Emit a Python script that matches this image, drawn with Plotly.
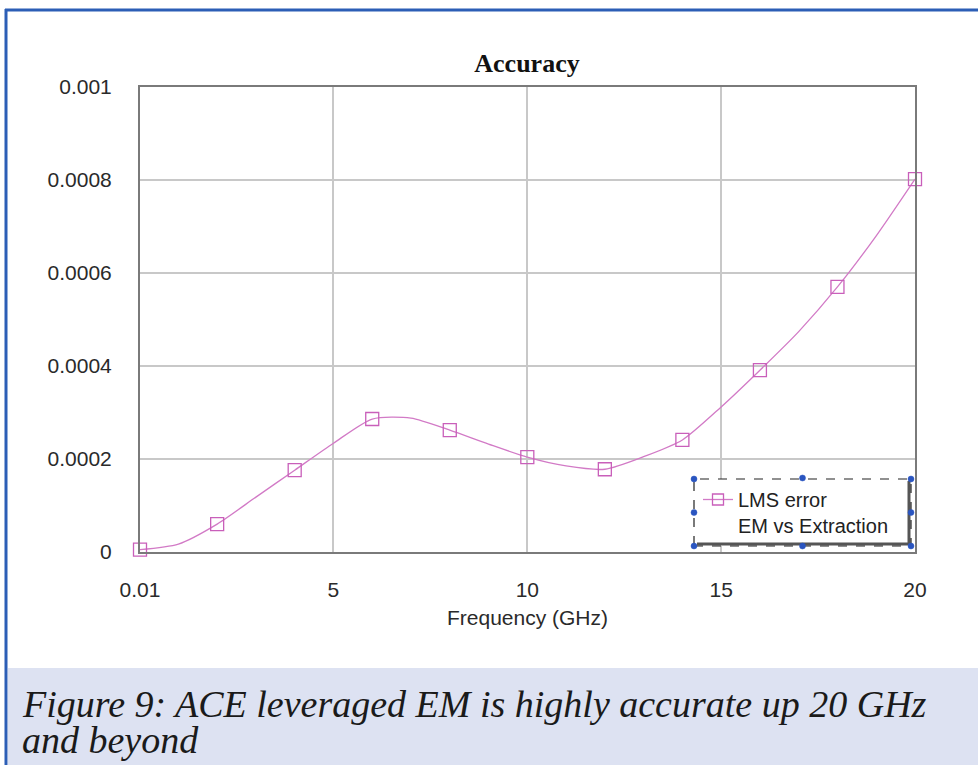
import plotly.graph_objects as go

# ---- data ----
freq_ghz = [0.01, 1, 2, 3, 4, 5, 6, 7, 8, 9, 10, 11, 12, 13, 14, 15, 16, 17, 18, 19, 20]
lms_error = [0.000005, 0.000017, 0.00006, 0.000118, 0.000176, 0.000234, 0.000286, 0.000288,
             0.000262, 0.000232, 0.000204, 0.000185, 0.000178, 0.000205, 0.000241, 0.000312,
             0.000391, 0.000474, 0.00057, 0.000680, 0.000802]
marker_freq = [0.01, 2, 4, 6, 8, 10, 12, 14, 16, 18, 20]
marker_err = [lms_error[freq_ghz.index(f)] for f in marker_freq]

x_tick_vals = [0.01, 5, 10, 15, 20]
x_tick_text = ["0.01", "5", "10", "15", "20"]
y_tick_vals = [0, 0.0002, 0.0004, 0.0006, 0.0008, 0.001]
y_tick_text = ["0", "0.0002", "0.0004", "0.0006", "0.0008", "0.001"]

title_text = "Accuracy"
x_title = "Frequency (GHz)"
legend_name = "LMS error<br>EM vs Extraction"
caption_1 = "Figure 9: ACE leveraged EM is highly accurate up 20 GHz"
caption_2 = "and beyond"

# ---- layout geometry (pixels) ----
W, H = 978, 765
L, R, T, B = 140, 915, 87, 552
PW, PH = R - L, B - T


def px(x):
    return (x - L) / PW


def py(y):
    return (B - y) / PH


line_col = "#d27ac6"
mark_col = "#c95fba"
axis_font = dict(family="Liberation Sans", size=21, color="#2a2a2a")

fig = go.Figure()
fig.add_trace(go.Scatter(
    x=freq_ghz, y=lms_error, mode="lines",
    line=dict(color=line_col, width=1.3, shape="spline", smoothing=0.7),
    showlegend=False, hoverinfo="skip"))
fig.add_trace(go.Scatter(
    x=marker_freq, y=marker_err, mode="markers",
    marker=dict(symbol="square-open", size=13, color=mark_col, line=dict(width=1.3)),
    showlegend=False, cliponaxis=False))
fig.add_trace(go.Scatter(
    x=[None], y=[None], mode="lines+markers", name=legend_name,
    line=dict(color=line_col, width=1.3),
    marker=dict(symbol="square-open", size=11, color=mark_col, line=dict(width=1.3))))

shapes = []
# caption background
shapes.append(dict(type="rect", xref="paper", yref="paper", x0=px(8), x1=px(W + 5),
                   y0=py(668), y1=py(H + 5), fillcolor="#dde2f2", line=dict(width=0), layer="below"))
# blue frame (left and top)
shapes.append(dict(type="line", xref="paper", yref="paper", x0=px(6), x1=px(6),
                   y0=py(9), y1=py(H + 5), line=dict(color="#2c5eb6", width=3)))
shapes.append(dict(type="line", xref="paper", yref="paper", x0=px(5), x1=px(W + 5),
                   y0=py(10), y1=py(10), line=dict(color="#2c5eb6", width=3)))
# legend box
bx0, bx1, by0, by1 = 694, 911, 479, 546
shapes.append(dict(type="rect", xref="paper", yref="paper", x0=px(bx0), x1=px(bx1),
                   y0=py(by1), y1=py(by0), fillcolor="white", line=dict(width=0), layer="above"))
shapes.append(dict(type="line", xref="paper", yref="paper", x0=px(bx0 + 3), x1=px(bx1 - 1),
                   y0=py(by1 - 2), y1=py(by1 - 2), line=dict(color="#555555", width=3), layer="above"))
shapes.append(dict(type="line", xref="paper", yref="paper", x0=px(bx1 - 2), x1=px(bx1 - 2),
                   y0=py(by0 + 2), y1=py(by1 - 1), line=dict(color="#555555", width=3), layer="above"))
shapes.append(dict(type="rect", xref="paper", yref="paper", x0=px(bx0), x1=px(bx1),
                   y0=py(by1), y1=py(by0), line=dict(color="#222222", width=1.2, dash="dash"),
                   layer="above"))
for (dx, dy) in [(bx0, by0), ((bx0 + bx1) / 2, by0 - 1), (bx1, by0), (bx0, (by0 + by1) / 2),
                 (bx1, (by0 + by1) / 2), (bx0, by1), ((bx0 + bx1) / 2, by1), (bx1, by1)]:
    shapes.append(dict(type="circle", xref="paper", yref="paper",
                       x0=px(dx - 3), x1=px(dx + 3), y0=py(dy + 3), y1=py(dy - 3),
                       fillcolor="#2a55c0", line=dict(color="#2a55c0", width=0.5), layer="above"))

cap_font = dict(family="Liberation Serif", size=38, color="#1a1a1a")
annotations = [
    dict(text="<i>" + caption_1 + "</i>", xref="paper", yref="paper", x=px(20), y=py(704),
         xanchor="left", yanchor="middle", showarrow=False, font=cap_font),
    dict(text="<i>" + caption_2 + "</i>", xref="paper", yref="paper", x=px(20), y=py(740),
         xanchor="left", yanchor="middle", showarrow=False, font=cap_font),
]

fig.update_layout(
    width=W, height=H,
    margin=dict(l=L, r=W - R, t=T, b=H - B, pad=0),
    paper_bgcolor="white", plot_bgcolor="white",
    title=dict(text="<b>" + title_text + "</b>", x=527 / W,
               xanchor="center", y=1 - 63 / H, yanchor="middle",
               font=dict(family="Liberation Serif", size=26, color="#111111")),
    xaxis=dict(range=[0.01, 20], tickvals=x_tick_vals, ticktext=x_tick_text,
               showgrid=True, gridcolor="#c8c8c8", gridwidth=1.5,
               showline=True, linecolor="#7a7a7a", linewidth=2, mirror=True,
               ticks="", ticklabelstandoff=18, zeroline=False,
               tickfont=axis_font,
               title=dict(text=x_title, standoff=10, font=axis_font)),
    yaxis=dict(range=[0, 0.001], tickvals=y_tick_vals, ticktext=y_tick_text,
               showgrid=True, gridcolor="#c8c8c8", gridwidth=1.5,
               showline=True, linecolor="#7a7a7a", linewidth=2, mirror=True,
               ticks="", ticklabelstandoff=22, zeroline=False,
               tickfont=axis_font),
    legend=dict(x=px(bx0 + 4), y=py(by0 + 1), xanchor="left", yanchor="top",
                bgcolor="rgba(0,0,0,0)", borderwidth=0, valign="top",
                font=dict(family="Liberation Sans", size=20, color="#222222"),
                itemwidth=30, tracegroupgap=0),
    shapes=shapes,
    annotations=annotations,
)

fig.write_html("out.html", config={"displayModeBar": False},
               post_script="document.body.style.margin='0px';document.body.style.overflow='hidden';")
